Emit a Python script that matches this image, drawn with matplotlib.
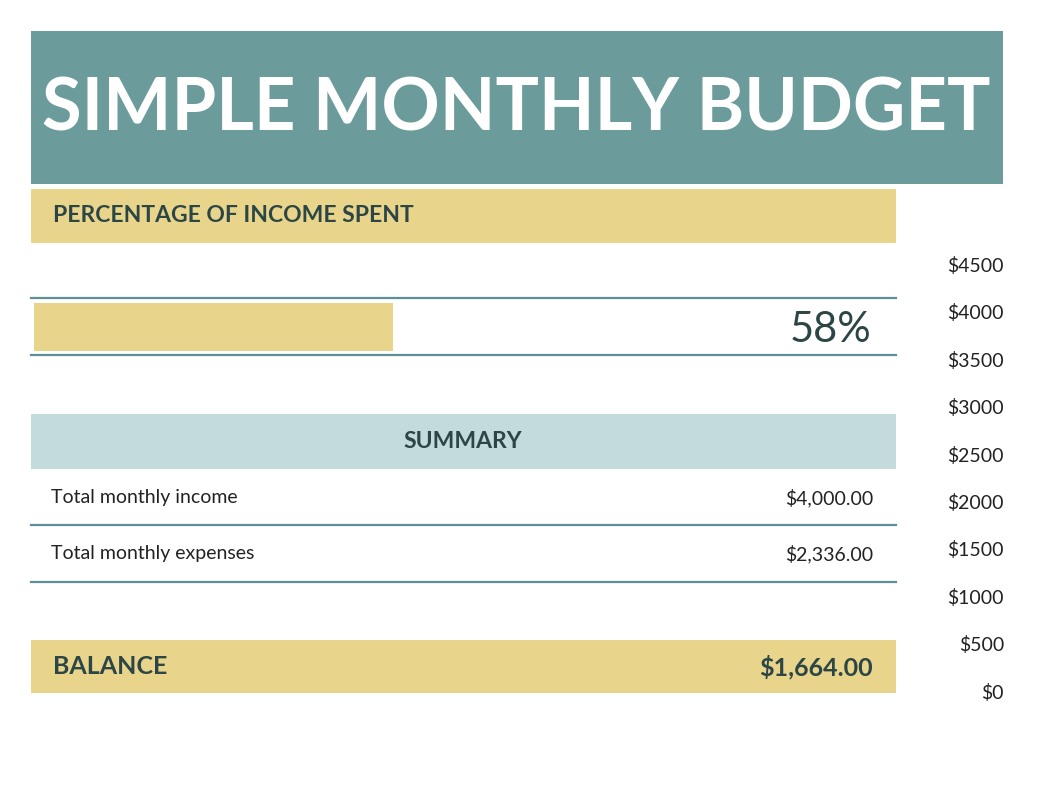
import matplotlib
matplotlib.use("Agg")
import matplotlib.pyplot as plt
from matplotlib.patches import Rectangle

title = "SIMPLE MONTHLY BUDGET"
section = "PERCENTAGE OF INCOME SPENT"
row_labels = ["Total monthly income", "Total monthly expenses"]
income = 4000.00
expenses = 2336.00
balance = income - expenses
pct = expenses / income
axis_ticks = [4500, 4000, 3500, 3000, 2500, 2000, 1500, 1000, 500, 0]

TEAL = "#6b9c9b"
YEL = "#e9d48b"
LBLUE = "#c4dbdb"
DARK = "#2c4646"
LINE = "#5f8f96"
FONT = "Lato"

fig = plt.figure(figsize=(10.38, 8.0), dpi=100)
ax = fig.add_axes([0, 0, 1, 1])
ax.set_xlim(0, 1038); ax.set_ylim(800, 0); ax.axis("off")

def rect(x0, y0, x1, y1, c):
    ax.add_patch(Rectangle((x0, y0), x1 - x0, y1 - y0, color=c, lw=0))

def hline(y):
    ax.plot([31, 896], [y, y], color=LINE, lw=1.6)

rect(31, 31, 1003, 184, TEAL)
ax.text(516, 110, title, color="white", fontsize=52, fontweight="bold",
        family=FONT, ha="center", va="center")

rect(31, 189, 896, 243, YEL)
ax.text(53, 216, section, color=DARK, fontsize=16.5, fontweight="bold",
        family=FONT, va="center")

hline(298); hline(355)
bar_left, bar_scale = 34, 614
rect(bar_left, 303, bar_left + pct * bar_scale, 351, YEL)
ax.text(871, 330, f"{pct*100:.0f}%", color=DARK, fontsize=30, family=FONT,
        ha="right", va="center")

rect(31, 414, 896, 469, LBLUE)
ax.text(463, 442, "SUMMARY", color=DARK, fontsize=16.5, fontweight="bold",
        family=FONT, ha="center", va="center")

for lbl, val, y, ly in zip(row_labels, [income, expenses], [498, 554], [525, 582]):
    ax.text(51, y, lbl, color="#222", fontsize=14, family=FONT, va="center")
    ax.text(873, y, f"${val:,.2f}", color="#222", fontsize=14, family=FONT,
            ha="right", va="center")
    hline(ly)

rect(31, 640, 896, 693, YEL)
ax.text(53, 667, "BALANCE", color=DARK, fontsize=18, fontweight="bold",
        family=FONT, va="center")
ax.text(873, 667, f"${balance:,.2f}", color=DARK, fontsize=18, fontweight="bold",
        family=FONT, ha="right", va="center")

for i, t in enumerate(axis_ticks):
    ax.text(1004, 266 + i * 47.4, f"${t}", color="#222", fontsize=14,
            family=FONT, ha="right", va="center")

fig.savefig("out.png", dpi=100, facecolor="white")
